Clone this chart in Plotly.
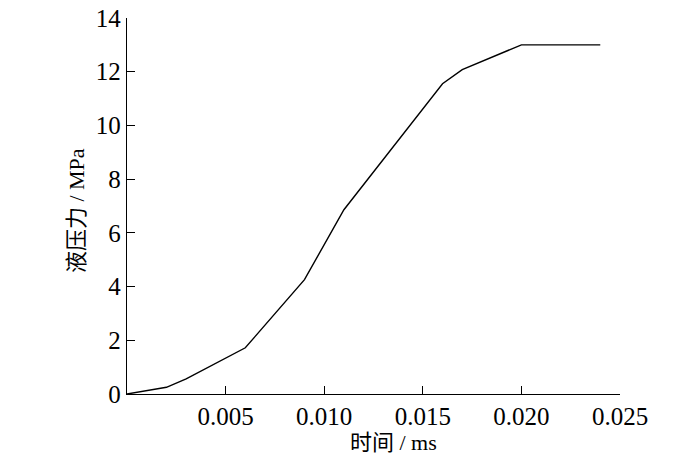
import plotly.graph_objects as go

# time (ms) vs hydraulic pressure (MPa)
time_ms = [0.0, 0.002, 0.003, 0.006, 0.009, 0.011, 0.016, 0.017, 0.020, 0.024]
pressure = [0.0, 0.25, 0.56, 1.72, 4.26, 6.86, 11.55, 12.08, 13.0, 13.0]

x_ticks = [0.005, 0.010, 0.015, 0.020, 0.025]
x_ticktext = ['0.005', '0.010', '0.015', '0.020', '0.025']
y_ticks = [0, 2, 4, 6, 8, 10, 12, 14]

font_family = 'Liberation Serif, Times New Roman, Noto Sans CJK SC, serif'

fig = go.Figure()
fig.add_trace(go.Scatter(x=time_ms, y=pressure, mode='lines',
                         line=dict(color='black', width=1.4),
                         showlegend=False))

axis_common = dict(showline=True, linecolor='black', linewidth=1.4,
                   ticks='inside', ticklen=8, tickwidth=1.3, tickcolor='black',
                   showgrid=False, zeroline=False, mirror=False,
                   automargin=False, ticklabeloverflow='allow',
                   tickfont=dict(family=font_family, size=25, color='black'))

fig.update_xaxes(range=[0, 0.025], tickvals=x_ticks, ticktext=x_ticktext, **axis_common)
fig.update_yaxes(range=[0, 14], tickvals=y_ticks, **axis_common)

# axis titles placed as annotations to match the original offsets
title_font = dict(family=font_family, size=22, color='black')
fig.add_annotation(text='时间 / ms', xref='paper', yref='paper', x=0.54, y=-0.13,
                   xanchor='center', yanchor='middle', showarrow=False, font=title_font)
fig.add_annotation(text='液压力 / MPa', xref='paper', yref='paper', x=-0.101, y=0.487,
                   xanchor='center', yanchor='middle', textangle=-90,
                   showarrow=False, font=title_font)

fig.update_layout(width=700, height=463,
                  margin=dict(l=119, r=88, t=10, b=77),
                  plot_bgcolor='white', paper_bgcolor='white')

fig.write_html('out.html')
